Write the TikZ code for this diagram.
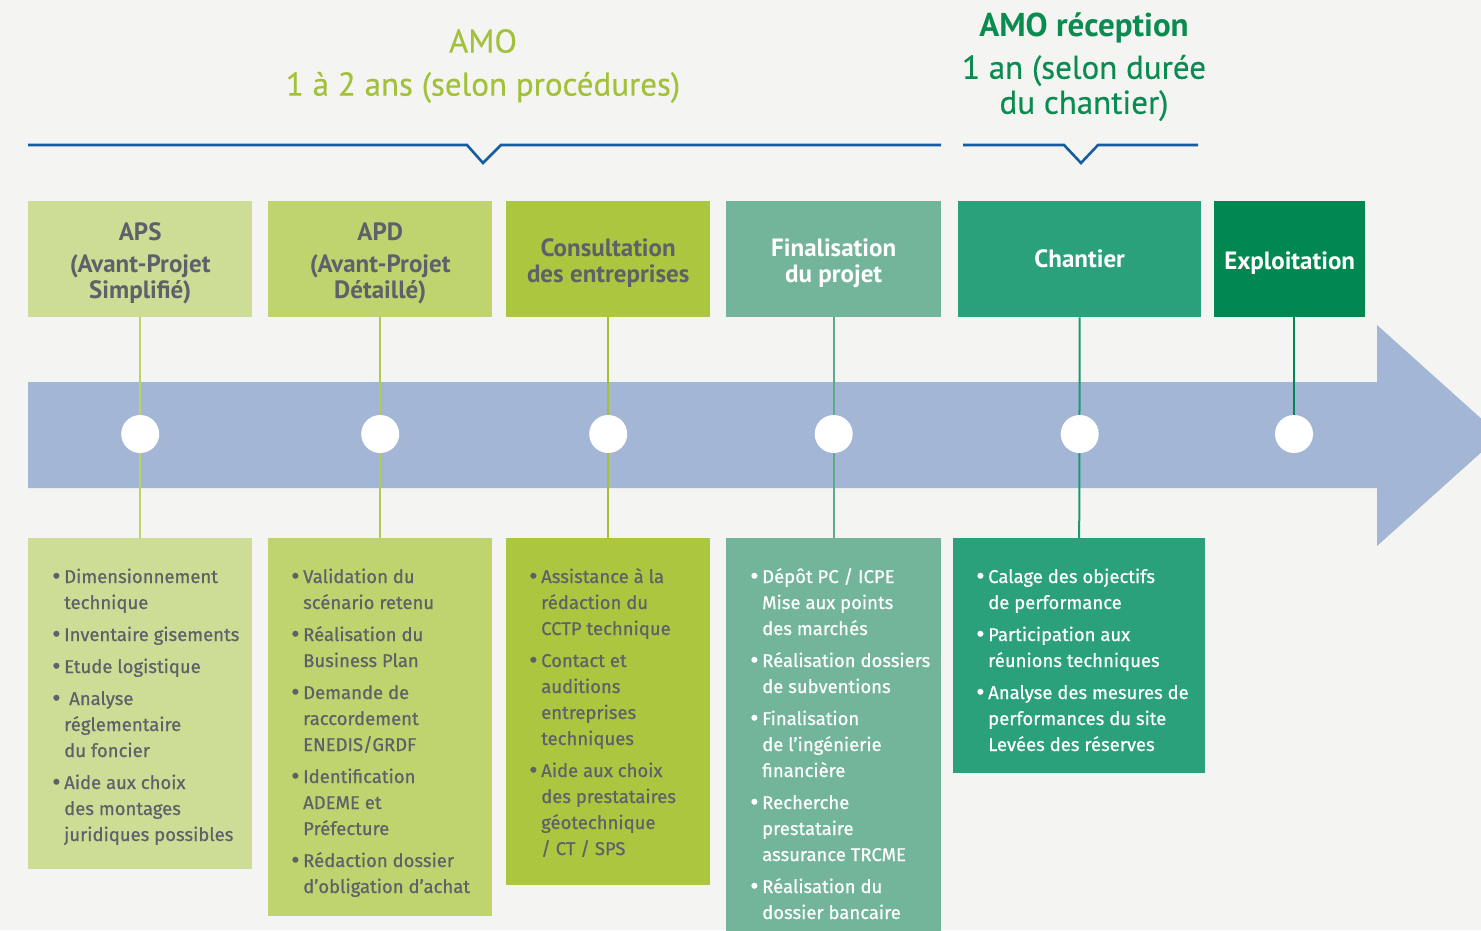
\documentclass[tikz,border=0pt]{standalone}
\usepackage{fontspec}
\setmainfont{Fira Sans}
\newfontfamily\bodyfont{Fira Sans}[FakeBold=0.6]
\newfontfamily\headfont{PT Sans}
\newfontfamily\titlefont{PT Sans}[FakeBold=0.4]
\usetikzlibrary{positioning,calc}
\definecolor{paper}{HTML}{F4F4F2}
\definecolor{ink}{HTML}{5D6168}
\definecolor{flow}{HTML}{A3B6D6}
\definecolor{bracketblue}{HTML}{175C9E}
\definecolor{amolight}{HTML}{A2C139}
\definecolor{amodark}{HTML}{0A8C50}
\definecolor{apsfill}{HTML}{CEDD95}
\definecolor{apsline}{HTML}{BDD267}
\definecolor{apdfill}{HTML}{BFD36E}
\definecolor{apdline}{HTML}{B2CA55}
\definecolor{consfill}{HTML}{ADC63F}
\definecolor{consline}{HTML}{A5C035}
\definecolor{finfill}{HTML}{72B59A}
\definecolor{finline}{HTML}{5EAB8B}
\definecolor{chanfill}{HTML}{2AA17A}
\definecolor{chanline}{HTML}{1E9870}
\definecolor{explfill}{HTML}{008850}
\newcommand\itm{\par\hangindent=12pt\hangafter=1\noindent\makebox[12pt][l]{\raisebox{-1.6pt}{\scalebox{1.4}{•}}}}
\newcommand\tasklines[1]{\begin{minipage}[t]{260pt}\setlength{\parskip}{6pt}#1\end{minipage}}
\newcommand\hdstrut{\rule{0pt}{26pt}}
\tikzset{
  every node/.style={inner sep=0pt},
  phase/.style={anchor=north west,minimum height=116,align=center,text=ink,font=\headfont\bfseries\fontsize{25}{26}\selectfont},
  tasks/.style={anchor=north west},
  tasklist/.style={anchor=base west,text=ink,font=\bodyfont\fontsize{18.5}{26}\selectfont},
  stem/.style={line width=2pt},
  dot/.style={circle,fill=white,minimum size=38},
  bracket/.style={draw=bracketblue,line width=2.6pt},
  title/.style={align=center,font=\titlefont\fontsize{33}{35}\selectfont},
}
\begin{document}
\begin{tikzpicture}[x=1pt,y=-1pt]
\clip (0,0) rectangle (1481,930);
\fill[paper] (0,0) rectangle (1481,930);
\coordinate (axis) at (0,434);

% durations
\node[title,text=amolight] (amo) at (483,66) {AMO\\[8pt]1 à 2 ans (selon procédures)};
\node[title,text=amodark] (amorec) at (1084,67) {{\headfont\bfseries AMO réception}\\[7pt]1 an (selon durée\\du chantier)};
\draw[bracket] (28,145) -- (467,145) -- (483,163) -- (501,145) -- (941,145);
\draw[bracket] (963,145) -- (1064,145) -- (1081,163) -- (1098,145) -- (1198,145);

% time axis
\fill[flow] (28,382) -- (1377,382) -- (1377,325) -- (1500,435.5) -- (1377,546) -- (1377,488) -- (28,488) -- cycle;

% phases
\node[phase,fill=apsfill,minimum width=224] (aps) at (28,201) {\hdstrut APS\\[6pt](Avant-Projet\\Simplifié)};
\node[phase,fill=apdfill,minimum width=224] (apd) at (268,201) {\hdstrut APD\\[6pt](Avant-Projet\\Détaillé)};
\node[phase,fill=consfill,minimum width=204] (cons) at (506,201) {\hdstrut Consultation\\des entreprises};
\node[phase,fill=finfill,minimum width=215,text=white] (fin) at (726,201) {\hdstrut Finalisation\\du projet};
\node[phase,fill=chanfill,minimum width=243,text=white] (chan) at (958,201) {Chantier};
\node[phase,fill=explfill,minimum width=151,text=white] (expl) at (1214,201) {\hdstrut Exploitation};

% task boxes
\node[tasks,fill=apsfill,minimum width=224,minimum height=331] (apsT) at (28,538) {};
\node[tasks,fill=apdfill,minimum width=224,minimum height=378] (apdT) at (268,538) {};
\node[tasks,fill=consfill,minimum width=204,minimum height=347] (consT) at (506,538) {};
\node[tasks,fill=finfill,minimum width=215,minimum height=400] (finT) at (726,538) {};
\node[tasks,fill=chanfill,minimum width=252,minimum height=235] (chanT) at (953,538) {};

% stems and milestones
\draw[stem,draw=apsline] (aps.south) -- (apsT.north);
\draw[stem,draw=apdline] (apd.south) -- (apdT.north);
\draw[stem,draw=consline] (cons.south) -- (consT.north);
\draw[stem,draw=finline] (fin.south) -- (finT.north);
\draw[stem,draw=chanline] (chan.south) -- (chanT.north);
\node[dot] (apsD) at (aps.south |- axis) {};
\node[dot] (apdD) at (apd.south |- axis) {};
\node[dot] (consD) at (cons.south |- axis) {};
\node[dot] (finD) at (fin.south |- axis) {};
\node[dot] (chanD) at (chan.south |- axis) {};
\node[dot] (explD) at (1294,434) {};
\draw[stem,draw=explfill] (explD |- expl.south) -- (explD.north);

% task lists
\node[tasklist] (apsL) at ([xshift=24pt,yshift=-45pt]apsT.north west) {\tasklines{%
\itm Dimensionnement\\technique
\itm Inventaire gisements
\itm Etude logistique
\itm\hspace{5pt}Analyse\\réglementaire\\du foncier
\itm Aide aux choix\\des montages\\juridiques possibles}};
\node[tasklist] (apdL) at ([xshift=23pt,yshift=-45pt]apdT.north west) {\tasklines{%
\itm Validation du\\scénario retenu
\itm Réalisation du\\Business Plan
\itm Demande de\\raccordement\\ENEDIS/GRDF
\itm Identification\\ADEME et\\Préfecture
\itm Rédaction dossier\\d’obligation d’achat}};
\node[tasklist] (consL) at ([xshift=23pt,yshift=-45pt]consT.north west) {\tasklines{%
\itm Assistance à la\\rédaction du\\CCTP technique
\itm Contact et\\auditions\\entreprises\\techniques
\itm Aide aux choix\\des prestataires\\géotechnique\\/ CT / SPS}};
\node[tasklist,text=white] (finL) at ([xshift=24pt,yshift=-45pt]finT.north west) {\tasklines{%
\itm Dépôt PC / ICPE\\Mise aux points\\des marchés
\itm Réalisation dossiers\\de subventions
\itm Finalisation\\de l’ingénierie\\financière
\itm Recherche\\prestataire\\assurance TRCME
\itm Réalisation du\\dossier bancaire}};
\node[tasklist,text=white] (chanL) at ([xshift=23pt,yshift=-45pt]chanT.north west) {\tasklines{%
\itm Calage des objectifs\\de performance
\itm Participation aux\\réunions techniques
\itm Analyse des mesures de\\performances du site\\Levées des réserves}};

\end{tikzpicture}
\end{document}
